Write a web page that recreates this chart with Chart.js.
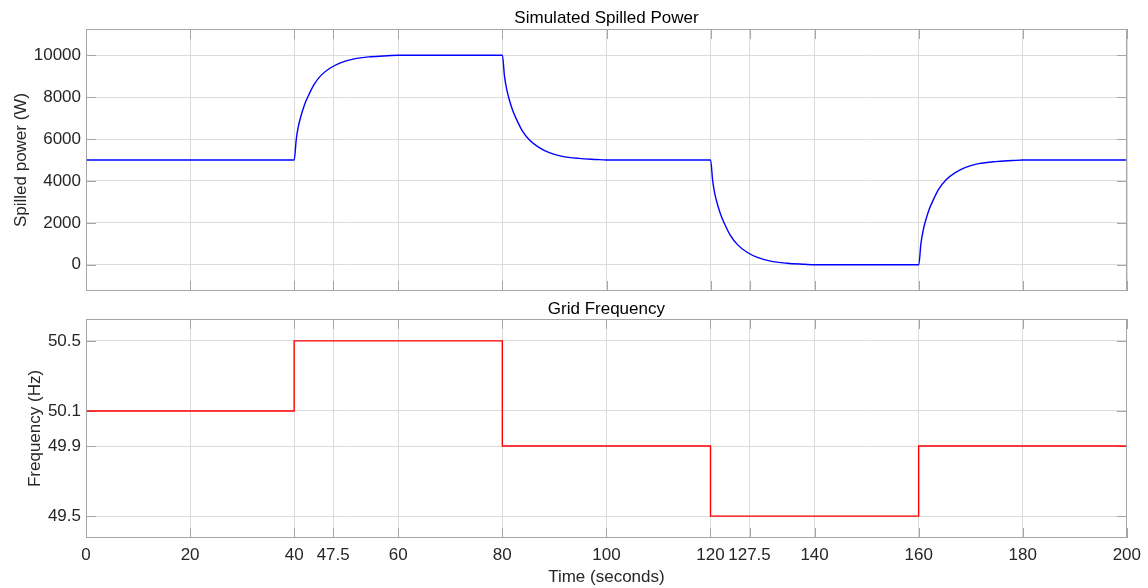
<!DOCTYPE html>
<head>
  <script src="https://cdn.jsdelivr.net/npm/chart.js"></script>
  <style>
      body { margin: 0; background: #fff; }
      .plotBox { position: absolute; left: 0; width: 1148px; }
  </style>
</head>

<body>
  <!-- two stacked axes, like the subplot figure -->
  <div class="plotBox" style="top:0px; height:300px;">
    <canvas id="powerChart" width="1148" height="300"></canvas>
  </div>
  <div class="plotBox" style="top:300px; height:288px;">
    <canvas id="freqChart" width="1148" height="288"></canvas>
  </div>

<script>
// values
const timeTicks = [0, 20, 40, 47.5, 60, 80, 100, 120, 127.5, 140, 160, 180, 200];
const powerTicks = [0, 2000, 4000, 6000, 8000, 10000];
const freqTicks = [49.5, 49.9, 50.1, 50.5];

const powerTime = [0, 40, 40.4, 40.8, 41.3, 42, 42.6, 43.8, 45.2, 47, 49, 51.5, 54.7, 58, 60,
  80, 80.4, 80.8, 81.3, 82, 82.6, 83.8, 85.2, 87, 89, 91.5, 94.7, 98, 100,
  120, 120.4, 120.8, 121.3, 122, 122.6, 123.8, 125.2, 127, 129, 131.5, 134.7, 138, 140,
  160, 160.4, 160.8, 161.3, 162, 162.6, 163.8, 165.2, 167, 169, 171.5, 174.7, 178, 180, 200];
const powerValues = [5000, 5000, 6000, 6600, 7100, 7650, 8000, 8600, 9050, 9400, 9650, 9825, 9925, 9975, 10000,
  10000, 9000, 8400, 7900, 7350, 7000, 6400, 5950, 5600, 5350, 5175, 5075, 5025, 5000,
  5000, 4000, 3400, 2900, 2350, 2000, 1400, 950, 600, 350, 175, 75, 25, 0,
  0, 1000, 1600, 2100, 2650, 3000, 3600, 4050, 4400, 4650, 4825, 4925, 4975, 5000, 5000];

const freqTime = [0, 40, 80, 120, 160, 200];
const freqValues = [50.1, 50.5, 49.9, 49.5, 49.9, 49.9];

const fontFam = "'Liberation Sans', Arial, sans-serif";
const textCol = '#262626';
const gridCol = '#dcdcdc';
const boxCol = '#a6a6a6';

// MATLAB style inward tick marks (under the data) and closed box
const boxPlugin = {
  id: 'boxPlugin',
  beforeDatasetsDraw(chart) {
    const {ctx, chartArea: {left, right, top, bottom}, scales: {x, y}} = chart;
    ctx.save();
    ctx.strokeStyle = boxCol;
    ctx.lineWidth = 1;
    ctx.beginPath();
    x.ticks.forEach(t => {
      const px = Math.round(x.getPixelForValue(t.value)) + 0.5;
      ctx.moveTo(px, bottom); ctx.lineTo(px, bottom - 10);
      ctx.moveTo(px, top); ctx.lineTo(px, top + 10);
    });
    y.ticks.forEach(t => {
      const py = Math.round(y.getPixelForValue(t.value)) + 0.5;
      ctx.moveTo(left, py); ctx.lineTo(left + 10, py);
      ctx.moveTo(right, py); ctx.lineTo(right - 10, py);
    });
    ctx.stroke();
    ctx.restore();
  },
  afterDraw(chart) {
    const {ctx, chartArea: {left, right, top, bottom}} = chart;
    ctx.save();
    ctx.strokeStyle = boxCol;
    ctx.lineWidth = 1;
    ctx.strokeRect(Math.round(left) + 0.5, Math.round(top) + 0.5,
      Math.round(right - left) - 1, Math.round(bottom - top) - 1);
    ctx.restore();
  }
};

function xScale(showLabels) {
  return {
    type: 'linear',
    min: 0,
    max: 200,
    afterBuildTicks: s => { s.ticks = timeTicks.map(v => ({value: v})); },
    afterFit: s => { s.height = showLabels ? 50 : 9; },
    border: { display: false },
    grid: { color: gridCol, drawTicks: false },
    ticks: {
      display: showLabels,
      autoSkip: false,
      maxRotation: 0,
      padding: 7,
      color: textCol,
      font: { family: fontFam, size: 17 },
      callback: v => String(v)
    },
    title: {
      display: showLabels,
      text: 'Time (seconds)',
      color: textCol,
      font: { family: fontFam, size: 17 },
      padding: { top: 4, bottom: 0 }
    }
  };
}

function yFit(s) {
  s.width = 86;
  s.paddingTop = 0;
  s.paddingBottom = 0;
}

new Chart(document.getElementById('powerChart'), {
  type: 'line',
  data: {
    datasets: [{
      data: powerTime.map((t, i) => ({x: t, y: powerValues[i]})),
      borderColor: '#0000ff',
      borderWidth: 1.4,
      pointRadius: 0,
      cubicInterpolationMode: 'monotone'
    }]
  },
  options: {
    responsive: false,
    animation: false,
    layout: { padding: { left: 0, right: 21, top: 0, bottom: 0 } },
    plugins: {
      legend: { display: false },
      tooltip: { enabled: false },
      title: {
        display: true,
        text: 'Simulated Spilled Power',
        fullSize: false,
        color: '#000',
        font: { family: fontFam, size: 17, weight: 'normal', lineHeight: 1.2 },
        padding: { top: 8, bottom: 0.6 }
      }
    },
    scales: {
      x: xScale(false),
      y: {
        min: -1250,
        max: 11250,
        afterBuildTicks: s => { s.ticks = powerTicks.map(v => ({value: v})); },
        afterFit: yFit,
        border: { display: false },
        grid: { color: gridCol, drawTicks: false },
        ticks: {
          padding: 5,
          color: textCol,
          font: { family: fontFam, size: 17 },
          callback: v => String(v)
        },
        title: {
          display: true,
          text: 'Spilled power (W)',
          color: textCol,
          font: { family: fontFam, size: 17 },
          padding: { top: 10.8, bottom: 0 }
        }
      }
    }
  },
  plugins: [boxPlugin]
});

new Chart(document.getElementById('freqChart'), {
  type: 'line',
  data: {
    datasets: [{
      data: freqTime.map((t, i) => ({x: t, y: freqValues[i]})),
      borderColor: '#ff0000',
      borderWidth: 1.4,
      pointRadius: 0,
      stepped: 'before'
    }]
  },
  options: {
    responsive: false,
    animation: false,
    layout: { padding: { left: 0, right: 21, top: 0, bottom: 0 } },
    plugins: {
      legend: { display: false },
      tooltip: { enabled: false },
      title: {
        display: true,
        text: 'Grid Frequency',
        fullSize: false,
        color: '#000',
        font: { family: fontFam, size: 17, weight: 'normal', lineHeight: 1.1 },
        padding: { top: 0, bottom: 0.3 }
      }
    },
    scales: {
      x: xScale(true),
      y: {
        min: 49.375,
        max: 50.625,
        afterBuildTicks: s => { s.ticks = freqTicks.map(v => ({value: v})); },
        afterFit: yFit,
        border: { display: false },
        grid: { color: gridCol, drawTicks: false },
        ticks: {
          padding: 5,
          color: textCol,
          font: { family: fontFam, size: 17 },
          callback: v => v.toFixed(1)
        },
        title: {
          display: true,
          text: 'Frequency (Hz)',
          color: textCol,
          font: { family: fontFam, size: 17 },
          padding: { top: 24.8, bottom: 0 }
        }
      }
    }
  },
  plugins: [boxPlugin]
});
</script>

</body>
